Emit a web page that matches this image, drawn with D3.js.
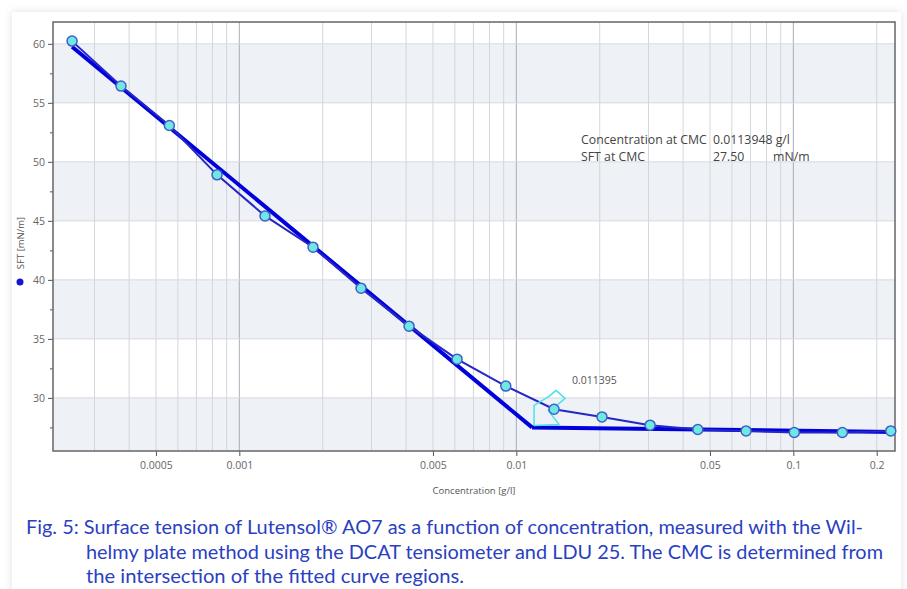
<!DOCTYPE html>
<html>
<head>
<meta charset="utf-8">
<script src="https://cdn.jsdelivr.net/npm/d3@7"></script>
<style>
  body { margin: 0; background: #ffffff; }
  svg { display: block; }
</style>
</head>
<body>
<svg id="chart" width="907" height="589"></svg>
<script>
/*
 * Measured points (concentration in g/l, surface tension in mN/m).
 */
let conc = [0.000249, 0.000374, 0.000559, 0.000831, 0.001238, 0.001845, 0.00275, 0.0041, 0.00611,
            0.00916, 0.01368, 0.02038, 0.0304, 0.0452, 0.0675, 0.1008, 0.1503, 0.2248];
let sft = [60.23, 56.42, 53.08, 48.9, 45.42, 42.77, 39.3, 36.08, 33.28,
           31.0, 29.04, 28.39, 27.69, 27.32, 27.2, 27.07, 27.07, 27.2];

/* fitted regions */
let fit_low_conc = [0.000249, 0.0113948];
let fit_low_sft = [59.75, 27.5];
let fit_high_conc = [0.0113948, 0.2328];
let fit_high_sft = [27.5, 27.12];

let cmc_conc = 0.0113948;
let cmc_sft = 27.50;

let x_tick_values = [0.0005, 0.001, 0.005, 0.01, 0.05, 0.1, 0.2];
let x_tick_labels = ['0.0005', '0.001', '0.005', '0.01', '0.05', '0.1', '0.2'];
let y_tick_values = [30, 35, 40, 45, 50, 55, 60];
let y_minor_values = [27.5, 32.5, 37.5, 42.5, 47.5, 52.5, 57.5];
let y_bands = [[25.5, 30], [35, 40], [45, 50], [55, 60]];

let caption_lines = [
  'Fig. 5: Surface tension of Lutensol\u00ae AO7 as a function of concentration, measured with the Wil-',
  'helmy plate method using the DCAT tensiometer and LDU 25. The CMC is determined from',
  'the intersection of the fitted curve regions.'
];

let chart_font = '"Open Sans", "Noto Sans", sans-serif';

let svg = d3.select('#chart');

let plot = { left: 53, right: 895, top: 22, bottom: 451 };

let x = d3.scaleLog().domain([0.0002125, 0.2328]).range([plot.left, plot.right]);
let y = d3.scaleLinear().domain([25.5, 61.85]).range([plot.bottom, plot.top]);

/*
 * Panel with soft shadow.
 */
let defs = svg.append('defs');
let shadow = defs.append('filter').attr('id', 'shadow')
  .attr('x', -0.05).attr('y', -0.05).attr('width', 1.1).attr('height', 1.1);
shadow.append('feDropShadow')
  .attr('dx', 0).attr('dy', 0).attr('stdDeviation', 4)
  .attr('flood-color', '#000').attr('flood-opacity', 0.12);

svg.append('rect')
  .attr('x', 12).attr('y', 12)
  .attr('width', 889).attr('height', 600)
  .style('fill', 'white')
  .attr('filter', 'url(#shadow)');

/*
 * Alternating horizontal bands.
 */
svg.selectAll('rect.band')
  .data(y_bands)
  .enter().append('rect')
  .attr('class', 'band')
  .attr('x', plot.left)
  .attr('y', d => y(d[1]))
  .attr('width', plot.right - plot.left)
  .attr('height', d => y(d[0]) - y(d[1]))
  .style('fill', '#eef1f6');

/* vertical log grid */
let grid_x = x.ticks();
svg.selectAll('line.vgrid')
  .data(grid_x)
  .enter().append('line')
  .attr('class', 'vgrid')
  .attr('x1', d => x(d)).attr('x2', d => x(d))
  .attr('y1', plot.top).attr('y2', plot.bottom)
  .style('stroke', d => Math.abs(Math.log10(d) - Math.round(Math.log10(d))) < 1e-9 ? '#a9adb6' : '#d3d6dc')
  .style('stroke-width', 1);

/* horizontal grid */
svg.selectAll('line.hgrid')
  .data(y_tick_values)
  .enter().append('line')
  .attr('class', 'hgrid')
  .attr('x1', plot.left).attr('x2', plot.right)
  .attr('y1', d => y(d)).attr('y2', d => y(d))
  .style('stroke', '#d6d9df')
  .style('stroke-width', 1);

/*
 * Axes.
 */
let x_axis = svg.append('g')
  .attr('transform', 'translate(0,' + plot.bottom + ')')
  .call(d3.axisBottom(x)
    .tickValues(x_tick_values)
    .tickFormat((d, i) => x_tick_labels[i])
    .tickSize(5)
    .tickPadding(6));

let y_axis = svg.append('g')
  .attr('transform', 'translate(' + plot.left + ',0)')
  .call(d3.axisLeft(y)
    .tickValues(y_tick_values)
    .tickFormat(d3.format('d'))
    .tickSize(5)
    .tickPadding(3));

svg.append('g')
  .attr('transform', 'translate(' + plot.left + ',0)')
  .call(d3.axisLeft(y).tickValues(y_minor_values).tickFormat('').tickSize(3))
  .select('.domain').remove();

[x_axis, y_axis].forEach(ax => {
  ax.selectAll('text')
    .style('font-family', chart_font)
    .style('font-size', '10.5px')
    .style('fill', '#666');
  ax.select('.domain').remove();
});
svg.selectAll('g.tick line').style('stroke', '#555');

/* frame */
svg.append('rect')
  .attr('x', plot.left).attr('y', plot.top)
  .attr('width', plot.right - plot.left)
  .attr('height', plot.bottom - plot.top)
  .style('fill', 'none')
  .style('stroke', '#666')
  .style('stroke-width', 1.5);

/*
 * Axis titles and legend dot.
 */
svg.append('text')
  .attr('x', (plot.left + plot.right) / 2 - 0)
  .attr('y', 494)
  .attr('text-anchor', 'middle')
  .style('font-family', chart_font)
  .style('font-size', '9.5px')
  .style('fill', '#555')
  .text('Concentration [g/l]');

svg.append('text')
  .attr('transform', 'translate(24,243) rotate(-90)')
  .attr('text-anchor', 'middle')
  .style('font-family', chart_font)
  .style('font-size', '9.5px')
  .style('fill', '#555')
  .text('SFT [mN/m]');

svg.append('circle')
  .attr('cx', 20).attr('cy', 282).attr('r', 3.5)
  .style('fill', '#1515d8');

/*
 * Fitted lines, measured curve, points.
 */
let line = d3.line().x(d => x(d[0])).y(d => y(d[1]));

svg.append('path')
  .datum(d3.zip(fit_low_conc, fit_low_sft))
  .attr('d', line)
  .style('fill', 'none')
  .style('stroke', '#0000dc')
  .style('stroke-width', 4);

svg.append('path')
  .datum(d3.zip(fit_high_conc, fit_high_sft))
  .attr('d', line)
  .style('fill', 'none')
  .style('stroke', '#0000dc')
  .style('stroke-width', 4);

svg.append('path')
  .datum(d3.zip(conc, sft))
  .attr('d', line)
  .style('fill', 'none')
  .style('stroke', '#2525c8')
  .style('stroke-width', 2);

/* CMC marker, drawn relative to the intersection point */
let cx = x(cmc_conc), cy = y(cmc_sft);
let marker = [[2, -2], [2, -22], [17, -31], [24, -37], [33, -29], [26, -23], [16, -17], [27, -3], [2, -2]];
svg.append('path')
  .attr('d', d3.line()(marker.map(p => [cx + p[0], cy + p[1]])))
  .style('fill', 'none')
  .style('stroke', '#49e3ee')
  .style('stroke-width', 1.5)
  .style('stroke-linejoin', 'round');

svg.selectAll('circle.pt')
  .data(d3.zip(conc, sft))
  .enter().append('circle')
  .attr('class', 'pt')
  .attr('cx', d => x(d[0]))
  .attr('cy', d => y(d[1]))
  .attr('r', 5)
  .style('fill', '#6fe8e4')
  .style('stroke', '#3f5fc8')
  .style('stroke-width', 1.5);

/*
 * Annotations.
 */
svg.append('text')
  .attr('x', cx + 40).attr('y', cy - 43)
  .style('font-family', chart_font)
  .style('font-size', '10.5px')
  .style('fill', '#555')
  .text(d3.format('.6f')(cmc_conc));

let info = svg.append('g')
  .style('font-family', chart_font)
  .style('font-size', '12.3px')
  .style('fill', '#444');

info.append('text').attr('x', 581).attr('y', 144).text('Concentration at CMC');
info.append('text').attr('x', 713).attr('y', 144).text(cmc_conc + ' g/l');
info.append('text').attr('x', 581).attr('y', 161).text('SFT at CMC');
info.append('text').attr('x', 713).attr('y', 161).text(cmc_sft.toFixed(2));
info.append('text').attr('x', 773).attr('y', 161).text('mN/m');

/*
 * Caption, hanging indent after "Fig. 5:".
 */
let caption_x = [26, 86, 86];
let caption_w = [837, 797, 378];
svg.selectAll('text.caption')
  .data(caption_lines)
  .enter().append('text')
  .attr('class', 'caption')
  .attr('x', (d, i) => caption_x[i])
  .attr('y', (d, i) => 534 + i * 24.5)
  .attr('textLength', (d, i) => caption_w[i])
  .attr('lengthAdjust', 'spacingAndGlyphs')
  .style('font-family', 'Lato, "Noto Sans", sans-serif')
  .style('font-size', '19.5px')
  .style('fill', '#2a3fc2')
  .text(d => d);
</script>
</body>
</html>
